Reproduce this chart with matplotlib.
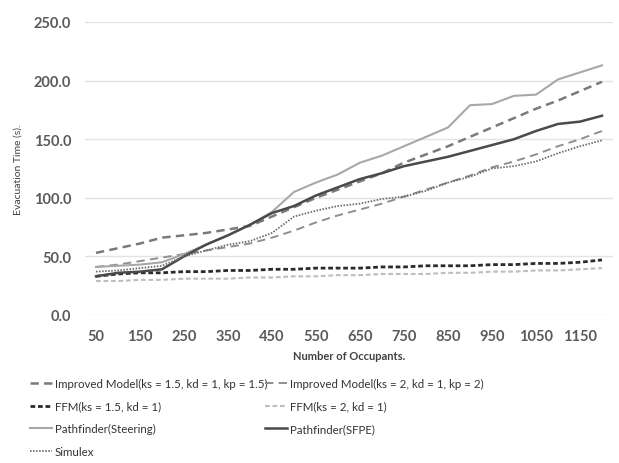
import matplotlib
matplotlib.use("Agg")
import matplotlib.pyplot as plt

plt.rcParams['font.family'] = ['Lato', 'DejaVu Sans']
plt.rcParams['lines.scale_dashes'] = False

# Number of occupants (category axis)
occupants = list(range(50, 1201, 50))

improved_15 = [53, 57, 61, 66, 68, 70, 73, 76, 84, 92, 100, 107, 114, 121, 130, 137, 144, 152, 160, 168, 176, 183, 191, 199]
improved_2 = [41, 43, 46, 49, 52, 55, 58, 61, 66, 72, 79, 85, 90, 95, 101, 107, 113, 119, 126, 131, 137, 144, 150, 157]
ffm_15 = [33, 35, 36, 36, 37, 37, 38, 38, 39, 39, 40, 40, 40, 41, 41, 42, 42, 42, 43, 43, 44, 44, 45, 47]
ffm_2 = [29, 29, 30, 30, 31, 31, 31, 32, 32, 33, 33, 34, 34, 35, 35, 35, 36, 36, 37, 37, 38, 38, 39, 40]
steering = [41, 42, 43, 45, 52, 60, 68, 77, 88, 105, 113, 120, 130, 136, 144, 152, 160, 179, 180, 187, 188, 201, 207, 213]
sfpe = [33, 36, 37, 39, 50, 60, 68, 77, 87, 93, 102, 109, 116, 121, 127, 131, 135, 140, 145, 150, 157, 163, 165, 170]
simulex = [37, 38, 40, 42, 50, 55, 60, 63, 70, 84, 89, 93, 95, 99, 101, 106, 113, 118, 125, 127, 131, 138, 144, 149]

labels = ['Improved Model(ks = 1.5, kd = 1, kp = 1.5)', 'Improved Model(ks = 2, kd = 1, kp = 2)',
          'FFM(ks = 1.5, kd = 1)', 'FFM(ks = 2, kd = 1)',
          'Pathfinder(Steering)', 'Pathfinder(SFPE)', 'Simulex']

fig = plt.figure(figsize=(6.19, 4.64), dpi=100)
ax = fig.add_axes([85 / 619, 1 - 316 / 464, 528 / 619, 293 / 464])

l1, = ax.plot(occupants, improved_15, color='#7a7a7a', lw=1.8, dashes=(6, 3.8))
l2, = ax.plot(occupants, improved_2, color='#8f8f8f', lw=1.4, dashes=(6, 3.8))
l3, = ax.plot(occupants, ffm_15, color='#2b2b2b', lw=2.0, dashes=(3.4, 2.0))
l4, = ax.plot(occupants, ffm_2, color='#bdbdbd', lw=1.5, dashes=(3.4, 2.0))
l5, = ax.plot(occupants, steering, color='#a8a8a8', lw=1.5)
l6, = ax.plot(occupants, sfpe, color='#4a4a4a', lw=1.8)
l7, = ax.plot(occupants, simulex, color='#6a6a6a', lw=1.3, dashes=(1.1, 1.1))

ax.set_xlim(25, 1225)
ax.set_ylim(0, 250)
ax.set_xticks(range(50, 1200, 100))
ax.set_yticks(range(0, 251, 50))
ax.set_yticklabels([f'{v:.1f}' for v in range(0, 251, 50)])
ax.tick_params(length=0, labelsize=10.5, colors='#5a5a5a', pad=10)
for t in ax.get_xticklabels() + ax.get_yticklabels():
    t.set_fontweight('bold')
ax.grid(axis='y', color='#e3e3e3', lw=1)
ax.set_axisbelow(True)
for s in ax.spines.values():
    s.set_visible(False)

ax.set_ylabel('Evacuation Time (s).', fontsize=7.5, color='#404040')
ax.yaxis.set_label_coords(-62 / 528, 0.5)
ax.set_xlabel('Number of Occupants.', fontsize=8, color='#404040', fontweight='bold', labelpad=5)

kw = dict(frameon=False, fontsize=8.3, handlelength=1.9, handletextpad=0.25,
          labelspacing=1.0, borderpad=0, borderaxespad=0, labelcolor='#333333')
leg1 = fig.legend([l1, l3, l5, l7], [labels[0], labels[2], labels[4], labels[6]],
                  loc='upper left', bbox_to_anchor=(30 / 619, 1 - 379 / 464), **kw)
leg2 = fig.legend([l2, l4, l6], [labels[1], labels[3], labels[5]],
                  loc='upper left', bbox_to_anchor=(265 / 619, 1 - 379 / 464), **kw)

fig.savefig('out.png', dpi=100)
